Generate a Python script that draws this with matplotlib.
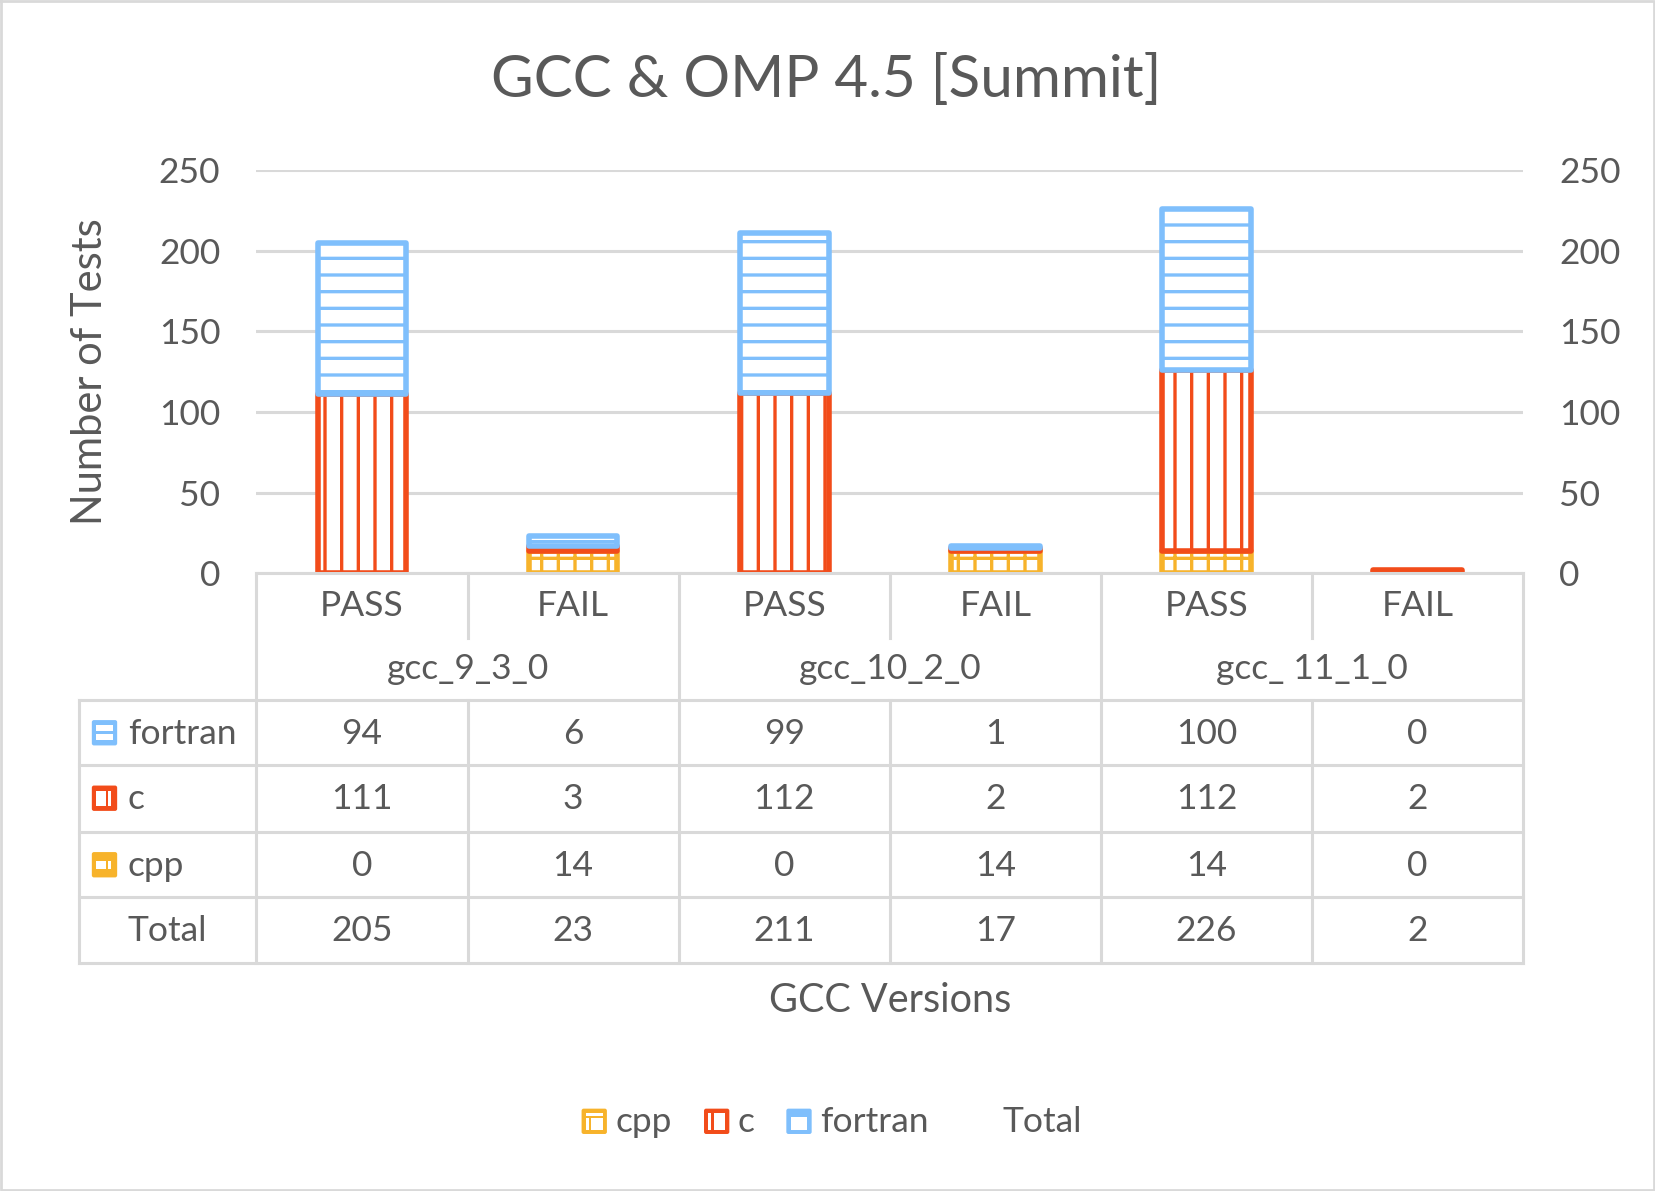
import numpy as np
import matplotlib
matplotlib.use("Agg")
import matplotlib.pyplot as plt
from matplotlib.patches import Rectangle, FancyBboxPatch

# datos del grafico
categorias = ["PASS", "FAIL", "PASS", "FAIL", "PASS", "FAIL"]
versiones = ["gcc_9_3_0", "gcc_10_2_0", "gcc_ 11_1_0"]
fortran = [94, 6, 99, 1, 100, 0]
c = [111, 3, 112, 2, 112, 2]
cpp = [0, 14, 0, 14, 14, 0]
total = [205, 23, 211, 17, 226, 2]
y_ticks = [0, 50, 100, 150, 200, 250]

col_f = "#7FBFFC"
col_c = "#F24C1A"
col_cpp = "#F7B32B"
gris = "#D9D9D9"
texto = "#595959"

plt.rcParams["font.family"] = ["Lato", "DejaVu Sans"]
plt.rcParams["hatch.linewidth"] = 2.4

W, H = 1568, 1128  # medidas de la referencia en pixeles
def fx(px): return px / W
def fy(py): return 1 - py / H

fs = 25.5  # tamaño de los textos de ejes y tabla

fig = plt.figure(figsize=(16.55, 11.91), dpi=100)

ax = fig.add_axes([fx(243), fy(543), fx(1443) - fx(243), fy(161) - fy(543)])
x = np.arange(len(categorias))
base = np.zeros(len(x))
series = [("cpp", cpp, col_cpp, "+"), ("c", c, col_c, "|"), ("fortran", fortran, col_f, "-")]
for nombre, vals, color, hatch in series:
    vals = np.array(vals, dtype=float)
    ec = [color if v > 0 else "none" for v in vals]
    ax.bar(x, vals, 0.42, bottom=base, color="white", edgecolor=ec, hatch=hatch,
           linewidth=4, joinstyle="round", zorder=3)
    base += vals

ax.set_xlim(-0.5, 5.5)
ax.set_ylim(0, 250)
ax.set_yticks(y_ticks)
ax.set_xticks([])
ax.yaxis.grid(True, color=gris, linewidth=2.2)
ax.set_axisbelow(True)
for s in ax.spines.values():
    s.set_visible(False)
ax.tick_params(axis="y", length=0, pad=26, labelsize=fs, labelcolor=texto)

ax2 = ax.twinx()
ax2.set_ylim(0, 250)
ax2.set_yticks(y_ticks)
for s in ax2.spines.values():
    s.set_visible(False)
ax2.tick_params(axis="y", length=0, pad=26, labelsize=fs, labelcolor=texto)

# capa para la tabla de datos (coordenadas en pixeles de la referencia)
ov = fig.add_axes([0, 0, 1, 1])
ov.set_xlim(0, W)
ov.set_ylim(H, 0)
ov.axis("off")


def icono(x0, y0, color, huecos):
    # cuadrito de color con huecos blancos, como los iconos de Excel
    ov.add_patch(FancyBboxPatch((x0 + 2, y0 + 2), 20, 20, boxstyle="round,pad=2",
                                facecolor=color, edgecolor="none"))
    for hx, hy, hw, hh in huecos:
        ov.add_patch(Rectangle((x0 + hx, y0 + hy), hw, hh, facecolor="white", edgecolor="none"))


huecos_f = [(4, 5, 16, 5), (4, 13, 16, 6)]
huecos_c = [(4, 5, 9, 14), (15, 5, 3, 14)]
huecos_cpp = [(4, 8, 9, 8), (15, 8, 3, 8)]

lw = 2.2
ov.plot([243, 1443], [543, 543], color=gris, lw=lw)
for yy in [663, 725, 788, 850, 912]:
    ov.plot([75, 1443], [yy, yy], color=gris, lw=lw)
for xx in [243, 643, 1043, 1443]:
    ov.plot([xx, xx], [543, 912], color=gris, lw=lw)
ov.plot([75, 75], [663, 912], color=gris, lw=lw)
for xx in [443, 843, 1243]:
    ov.plot([xx, xx], [543, 604], color=gris, lw=lw)
    ov.plot([xx, xx], [663, 912], color=gris, lw=lw)
ov.plot([1, 1567, 1567, 1, 1], [1, 1, 1127, 1127, 1], color=gris, lw=2)

for i, cat in enumerate(categorias):
    ov.text(343 + 200 * i, 574, cat, ha="center", va="center", fontsize=fs, color=texto)
for i, v in enumerate(versiones):
    ov.text(443 + 400 * i, 634, v, ha="center", va="center", fontsize=fs, color=texto)

filas = [("fortran", fortran, col_f, huecos_f, 694), ("c", c, col_c, huecos_c, 756),
         ("cpp", cpp, col_cpp, huecos_cpp, 819), ("Total", total, None, None, 881)]
for nombre, vals, color, huecos, yy in filas:
    if color is not None:
        icono(87, yy - 12, color, huecos)
    ov.text(121, yy + 1, nombre, ha="left", va="center", fontsize=fs, color=texto)
    for i, v in enumerate(vals):
        ov.text(343 + 200 * i, yy + 1, str(v), ha="center", va="center", fontsize=fs, color=texto)

fig.text(fx(783), fy(76), "GCC & OMP 4.5 [Summit]", ha="center", va="center",
         fontsize=42, color=texto)
fig.text(fx(85), fy(352), "Number of Tests", ha="center", va="center", rotation=90,
         fontsize=30, color=texto)
fig.text(fx(843), fy(948), "GCC Versions", ha="center", va="center", fontsize=28.5, color=texto)

# leyenda inferior
leyenda = [("cpp", col_cpp, [(4, 4, 16, 3), (4, 9, 3, 11), (9, 9, 11, 11)], 551, 583),
           ("c", col_c, [(4, 4, 3, 16), (9, 4, 11, 16)], 667, 699),
           ("fortran", col_f, [(4, 8, 16, 12)], 745, 777),
           ("Total", None, None, None, 950)]
for nombre, color, huecos, xi, xt in leyenda:
    if color is not None:
        icono(xi, 1050, color, huecos)
    ov.text(xt, 1063, nombre, ha="left", va="center", fontsize=fs, color=texto)

fig.savefig("out.png", dpi=100)
